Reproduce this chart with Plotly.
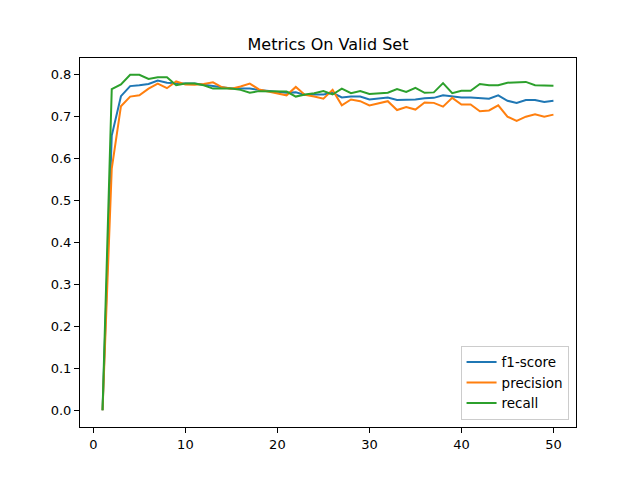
import plotly.graph_objects as go

epochs = list(range(1, 51))

f1_score = [
    0.0, 0.655, 0.749, 0.773, 0.775, 0.778, 0.786, 0.781, 0.780, 0.779,
    0.779, 0.776, 0.773, 0.770, 0.767, 0.767, 0.767, 0.764, 0.762, 0.759,
    0.757, 0.758, 0.752, 0.753, 0.753, 0.757, 0.746, 0.748, 0.748, 0.741,
    0.743, 0.746, 0.740, 0.740, 0.741, 0.744, 0.745, 0.751, 0.749, 0.746,
    0.746, 0.744, 0.743, 0.751, 0.738, 0.733, 0.740, 0.740, 0.735, 0.738,
]
precision = [
    0.0, 0.576, 0.725, 0.748, 0.751, 0.767, 0.779, 0.768, 0.784, 0.777,
    0.776, 0.778, 0.782, 0.770, 0.767, 0.772, 0.779, 0.765, 0.760, 0.755,
    0.751, 0.771, 0.752, 0.748, 0.743, 0.764, 0.727, 0.741, 0.737, 0.727,
    0.732, 0.737, 0.716, 0.723, 0.717, 0.734, 0.733, 0.724, 0.745, 0.729,
    0.729, 0.713, 0.715, 0.727, 0.700, 0.690, 0.700, 0.706, 0.700, 0.705,
]
recall = [
    0.0, 0.766, 0.777, 0.800, 0.800, 0.790, 0.794, 0.794, 0.775, 0.779,
    0.779, 0.775, 0.767, 0.767, 0.767, 0.764, 0.757, 0.761, 0.761, 0.761,
    0.760, 0.748, 0.753, 0.756, 0.761, 0.753, 0.767, 0.756, 0.761, 0.754,
    0.755, 0.757, 0.766, 0.759, 0.769, 0.757, 0.758, 0.780, 0.756, 0.762,
    0.762, 0.778, 0.775, 0.775, 0.781, 0.782, 0.783, 0.775, 0.774, 0.774,
]

series = [
    ("f1-score", f1_score, "#1f77b4"),
    ("precision", precision, "#ff7f0e"),
    ("recall", recall, "#2ca02c"),
]

fig = go.Figure()
for name, values, color in series:
    fig.add_trace(
        go.Scatter(x=epochs, y=values, name=name, mode="lines", line=dict(color=color, width=2))
    )

axis_style = dict(
    showline=True,
    mirror=True,
    linecolor="black",
    linewidth=1,
    ticks="outside",
    ticklen=5,
    tickcolor="black",
    showgrid=False,
    zeroline=False,
    tickfont=dict(size=13, color="black"),
)

# page body has an 8px margin, so the margins are trimmed to keep the axes where matplotlib puts them
fig.update_layout(
    width=640,
    height=480,
    margin=dict(l=72, r=72, t=50, b=61),
    paper_bgcolor="white",
    plot_bgcolor="white",
    font=dict(family="DejaVu Sans", color="black"),
    title=dict(
        text="Metrics On Valid Set",
        x=0.5,
        xref="paper",
        xanchor="center",
        y=1,
        yref="paper",
        yanchor="bottom",
        pad=dict(b=8),
        font=dict(size=16, color="black"),
    ),
    xaxis=dict(range=[-1.45, 52.45], tickvals=[0, 10, 20, 30, 40, 50], **axis_style),
    yaxis=dict(
        range=[-0.04, 0.84],
        tickvals=[0.0, 0.1, 0.2, 0.3, 0.4, 0.5, 0.6, 0.7, 0.8],
        tickformat=".1f",
        **axis_style,
    ),
    legend=dict(
        x=0.985,
        y=0.02,
        xanchor="right",
        yanchor="bottom",
        bordercolor="#cccccc",
        borderwidth=1,
        bgcolor="rgba(255,255,255,0.8)",
        font=dict(size=13.5, color="black"),
        tracegroupgap=0,
    ),
    showlegend=True,
)

fig.write_html("out.html")
